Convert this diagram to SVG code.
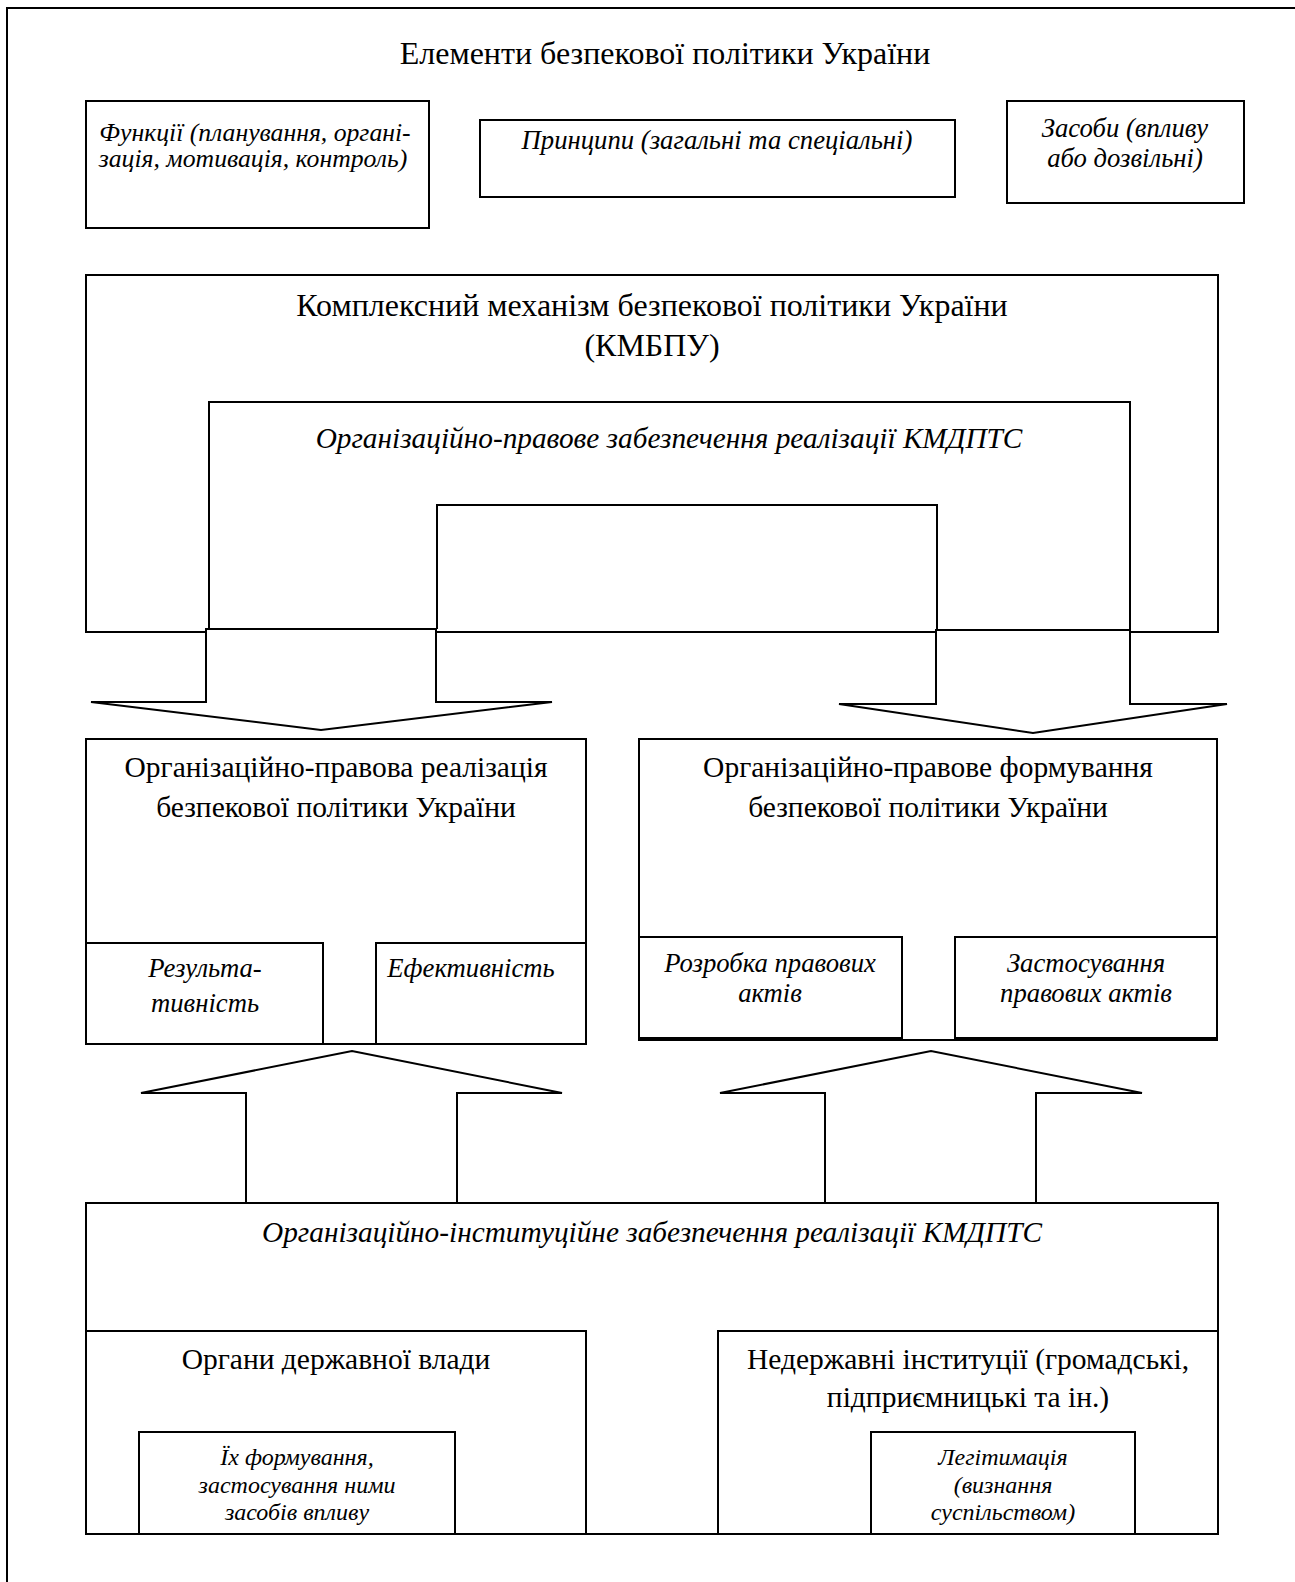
<svg xmlns="http://www.w3.org/2000/svg" width="1295" height="1582" viewBox="0 0 1295 1582">
<style>
.b{fill:none;stroke:#000;stroke-width:2}
.a{fill:#fff;stroke:#000;stroke-width:2;stroke-linejoin:miter}
.t{font-family:"Liberation Serif","Times New Roman",serif;fill:#000;text-anchor:middle}
.h{font-size:32px}
.r{font-size:29.5px}
.i{font-style:italic;font-size:29.3px}
.f{font-style:italic;font-size:25.7px}
.s{font-style:italic;font-size:26.7px}
.x{font-style:italic;font-size:24px}
</style>
<rect width="1295" height="1582" fill="#fff"/>
<rect class="b" x="7" y="8" width="1310" height="1600"/>

<g id="title"><text class="t h" x="665" y="64">Елементи безпекової політики України</text></g>

<g id="functions">
<rect class="b" x="86" y="101" width="343" height="127"/>
<text class="t f" x="255" y="141">Функції (планування, органі-</text>
<text class="t f" x="253" y="167">зація, мотивація, контроль)</text>
</g>
<g id="principles">
<rect class="b" x="480" y="120" width="475" height="77"/>
<text class="t s" x="717" y="149">Принципи (загальні та спеціальні)</text>
</g>
<g id="means">
<rect class="b" x="1007" y="101" width="237" height="102"/>
<text class="t s" x="1125" y="137">Засоби (впливу</text>
<text class="t s" x="1125" y="167">або дозвільні)</text>
</g>

<g id="kmbpu">
<rect class="b" x="86" y="275" width="1132" height="357"/>
<text class="t h" x="652" y="316">Комплексний механізм безпекової політики України</text>
<text class="t h" x="652" y="356">(КМБПУ)</text>
</g>
<g id="org-legal-support">
<polyline class="b" points="209,628 209,402 1130,402 1130,630"/>
<text class="t i" x="669" y="448">Організаційно-правове забезпечення реалізації КМДПТС</text>
</g>
<g id="inner-box">
<polyline class="b" points="437,629 437,505 937,505 937,632"/>
</g>

<g id="connectors">
<polygon class="a" points="206,629 436,629 436,702 552,702 321,730 91,702 206,702"/>
<polygon class="a" points="936,630 1130,630 1130,704 1227,704 1033,733 839,704 936,704"/>
<polygon class="a" points="246,1203 246,1093 141,1093 352,1051 562,1093 457,1093 457,1203"/>
<polygon class="a" points="825,1203 825,1093 720,1093 931,1051 1142,1093 1036,1093 1036,1203"/>
</g>

<g id="realization">
<rect class="b" x="86" y="739" width="500" height="305"/>
<text class="t r" x="336" y="777">Організаційно-правова реалізація</text>
<text class="t r" x="336" y="817">безпекової політики України</text>
</g>
<g id="resultivity">
<rect class="b" x="86" y="943" width="237" height="101"/>
<text class="t s" x="205" y="977">Результа-</text>
<text class="t s" x="205" y="1012">тивність</text>
</g>
<g id="efficiency">
<rect class="b" x="376" y="943" width="210" height="101"/>
<text class="t s" x="471" y="977">Ефективність</text>
</g>

<g id="formation">
<rect class="b" x="639" y="739" width="578" height="301"/>
<text class="t r" x="928" y="777">Організаційно-правове формування</text>
<text class="t r" x="928" y="817">безпекової політики України</text>
</g>
<g id="drafting">
<rect class="b" x="639" y="937" width="263" height="101"/>
<text class="t s" x="770" y="972">Розробка правових</text>
<text class="t s" x="770" y="1002">актів</text>
</g>
<g id="application">
<rect class="b" x="955" y="937" width="262" height="101"/>
<text class="t s" x="1086" y="972">Застосування</text>
<text class="t s" x="1086" y="1002">правових актів</text>
</g>

<g id="institutional">
<rect class="b" x="86" y="1203" width="1132" height="331"/>
<text class="t i" x="652" y="1242">Організаційно-інституційне забезпечення реалізації КМДПТС</text>
</g>
<g id="state-bodies">
<rect class="b" x="86" y="1331" width="500" height="203"/>
<text class="t r" x="336" y="1369">Органи державної влади</text>
</g>
<g id="formation-means">
<rect class="b" x="139" y="1432" width="316" height="102"/>
<text class="t x" x="297" y="1465">Їх формування,</text>
<text class="t x" x="297" y="1493">застосування ними</text>
<text class="t x" x="297" y="1520">засобів впливу</text>
</g>
<g id="non-state">
<rect class="b" x="718" y="1331" width="500" height="203"/>
<text class="t r" x="968" y="1369">Недержавні інституції (громадські,</text>
<text class="t r" x="968" y="1407">підприємницькі та ін.)</text>
</g>
<g id="legitimation">
<rect class="b" x="871" y="1432" width="264" height="102"/>
<text class="t x" x="1003" y="1465">Легітимація</text>
<text class="t x" x="1003" y="1493">(визнання</text>
<text class="t x" x="1003" y="1520">суспільством)</text>
</g>
</svg>
